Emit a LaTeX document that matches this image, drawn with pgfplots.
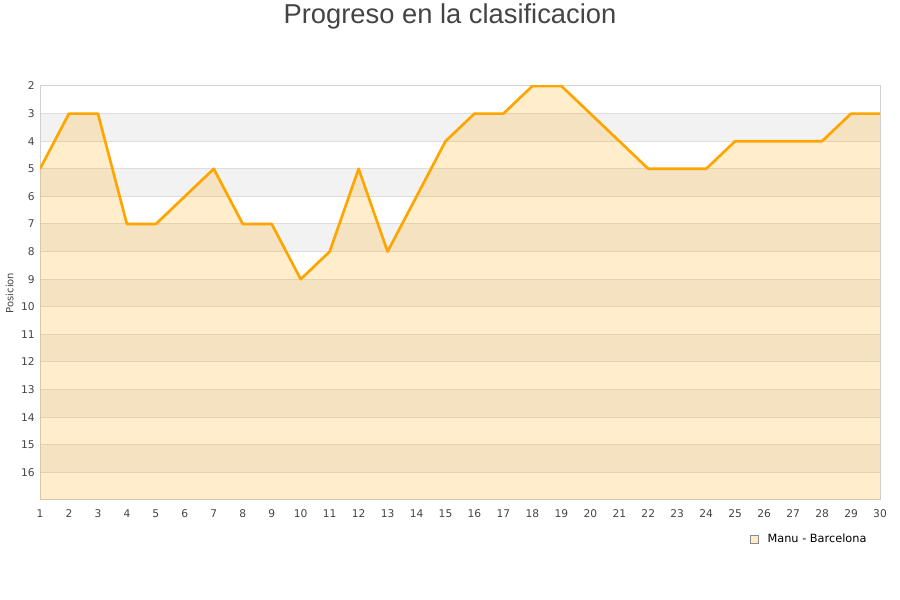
\documentclass[border=0pt]{standalone}
\usepackage{fontspec}
\setmainfont{DejaVu Sans}
\newfontfamily\titlefont{Liberation Sans}
\usepackage{pgfplots}
\pgfplotsset{compat=1.18}
\definecolor{linecol}{HTML}{FFA500}
\definecolor{bandgray}{HTML}{F2F2F2}
\definecolor{gridgray}{HTML}{DDDDDD}
\definecolor{framegray}{HTML}{D0D0D0}
\definecolor{txt}{HTML}{444444}

\begin{document}
\begin{tikzpicture}
\begin{axis}[
  set layers,
  at={(30pt,75pt)}, anchor=south west,
  scale only axis, width=630pt, height=310.5pt,
  xmin=1, xmax=30, ymin=2, ymax=17, y dir=reverse,
  xtick={1,...,30}, ytick={2,...,16},
  major tick length=0pt,
  ymajorgrids, grid style={gridgray, line width=0.75pt},
  axis line style={framegray, line width=0.75pt},
  ticklabel style={font=\fontsize{8}{9}\selectfont, text=txt},
  xticklabel style={yshift=-4pt},
  yticklabel style={xshift=-0.5pt},
  /pgf/number format/assume math mode=true,
  ylabel={Posicion},
  ylabel style={at={(axis description cs:-0.036,0.5)}, anchor=center,
    font=\fontsize{7.5}{8}\selectfont, text=txt},
  legend style={draw=none, fill=none, at={(axis description cs:0.989,-0.094)},
    anchor=east, font=\fontsize{8.5}{10}\selectfont, inner sep=1pt},
]
% alternating background bands
\addplot[fill=bandgray, draw=none, on layer=axis background, forget plot] coordinates {(1,3) (30,3) (30,4) (1,4)} -- cycle;
\addplot[fill=bandgray, draw=none, on layer=axis background, forget plot] coordinates {(1,5) (30,5) (30,6) (1,6)} -- cycle;
\addplot[fill=bandgray, draw=none, on layer=axis background, forget plot] coordinates {(1,7) (30,7) (30,8) (1,8)} -- cycle;
\addplot[fill=bandgray, draw=none, on layer=axis background, forget plot] coordinates {(1,9) (30,9) (30,10) (1,10)} -- cycle;
\addplot[fill=bandgray, draw=none, on layer=axis background, forget plot] coordinates {(1,11) (30,11) (30,12) (1,12)} -- cycle;
\addplot[fill=bandgray, draw=none, on layer=axis background, forget plot] coordinates {(1,13) (30,13) (30,14) (1,14)} -- cycle;
\addplot[fill=bandgray, draw=none, on layer=axis background, forget plot] coordinates {(1,15) (30,15) (30,16) (1,16)} -- cycle;

% area under the position line
\addplot[draw=none, fill=linecol, fill opacity=0.2, forget plot] coordinates {
  (1,5) (2,3) (3,3) (4,7) (5,7) (6,6) (7,5) (8,7) (9,7) (10,9)
  (11,8) (12,5) (13,8) (14,6) (15,4) (16,3) (17,3) (18,2) (19,2) (20,3)
  (21,4) (22,5) (23,5) (24,5) (25,4) (26,4) (27,4) (28,4) (29,3) (30,3)
  (30,17) (1,17)} -- cycle;

% position line
\addplot[linecol, line width=2pt, line join=round, forget plot] coordinates {
  (1,5) (2,3) (3,3) (4,7) (5,7) (6,6) (7,5) (8,7) (9,7) (10,9)
  (11,8) (12,5) (13,8) (14,6) (15,4) (16,3) (17,3) (18,2) (19,2) (20,3)
  (21,4) (22,5) (23,5) (24,5) (25,4) (26,4) (27,4) (28,4) (29,3) (30,3)};

\addlegendimage{legend image code/.code={\draw[fill=linecol!22, draw=gray!90, line width=0.5pt] (0pt,-3pt) rectangle (6pt,3pt); \path[draw=none, fill=none] (0pt,0pt) rectangle (11pt,0.1pt);}}
\addlegendentry{Manu - Barcelona}
\end{axis}
\node[font=\titlefont\fontsize{20.5}{22}\selectfont, text=txt] at (337.5pt,437.5pt) {Progreso en la clasificacion};
\pgfresetboundingbox
\useasboundingbox (0pt,0pt) rectangle (675pt,450pt);
\end{tikzpicture}
\end{document}
